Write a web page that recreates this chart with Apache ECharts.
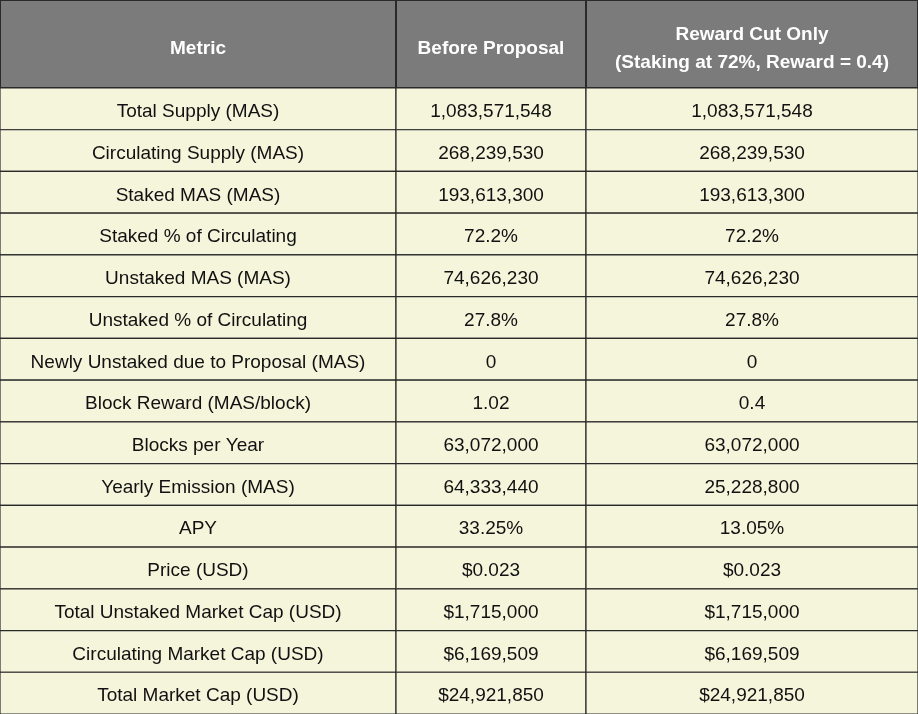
<!DOCTYPE html>
<html><head><meta charset="utf-8">
<script src="https://cdn.jsdelivr.net/npm/echarts@6/dist/echarts.min.js"></script>
<style>html,body{margin:0;padding:0;background:#f5f5dc}#c{width:918px;height:714px}</style>
</head><body><div id="c"></div>
<script>
const headers = ["Metric", "Before Proposal", "Reward Cut Only\n(Staking at 72%, Reward = 0.4)"];
const metrics = ["Total Supply (MAS)","Circulating Supply (MAS)","Staked MAS (MAS)","Staked % of Circulating","Unstaked MAS (MAS)","Unstaked % of Circulating","Newly Unstaked due to Proposal (MAS)","Block Reward (MAS/block)","Blocks per Year","Yearly Emission (MAS)","APY","Price (USD)","Total Unstaked Market Cap (USD)","Circulating Market Cap (USD)","Total Market Cap (USD)"];
const beforeProposal = ["1,083,571,548","268,239,530","193,613,300","72.2%","74,626,230","27.8%","0","1.02","63,072,000","64,333,440","33.25%","$0.023","$1,715,000","$6,169,509","$24,921,850"];
const rewardCutOnly = ["1,083,571,548","268,239,530","193,613,300","72.2%","74,626,230","27.8%","0","0.4","63,072,000","25,228,800","13.05%","$0.023","$1,715,000","$6,169,509","$24,921,850"];

const colEdges = [0, 396, 586, 918];
const headerH = 88, rowH = (714 - 88) / 15;
const cells = [];
headers.forEach((h, c) => cells.push([c, -1, h]));
const cols = [metrics, beforeProposal, rewardCutOnly];
cols.forEach((arr, c) => arr.forEach((v, r) => cells.push([c, r, v])));

const chart = echarts.init(document.getElementById('c'));
chart.setOption({
  animation: false,
  grid: {left: 0, right: 0, top: 0, bottom: 0},
  xAxis: {type: 'value', min: 0, max: 918, show: false},
  yAxis: {type: 'value', min: 0, max: 714, inverse: true, show: false},
  series: [{
    type: 'custom',
    data: cells,
    renderItem(params, api) {
      const c = api.value(0), r = api.value(1);
      const y0 = r < 0 ? 0 : headerH + r * rowH;
      const y1 = r < 0 ? headerH : headerH + (r + 1) * rowH;
      const p0 = api.coord([colEdges[c], y0]), p1 = api.coord([colEdges[c + 1], y1]);
      const isH = r < 0;
      return {type: 'group', children: [
        {type: 'rect', shape: {x: p0[0], y: p0[1], width: p1[0] - p0[0], height: p1[1] - p0[1]},
         style: {fill: isH ? '#7b7b7b' : '#f5f5dc', stroke: '#2a2a2a', lineWidth: isH ? 2 : 1.2}},
        {type: 'text', style: {text: cells[params.dataIndex][2], x: (p0[0] + p1[0]) / 2, y: (p0[1] + p1[1]) / 2 + (isH ? 5 : 3),
          align: 'center', verticalAlign: 'middle', fill: isH ? '#ffffff' : '#111111',
          font: (isH ? 'bold ' : '') + '19px "Liberation Sans", Arial, sans-serif', lineHeight: 28}}
      ]};
    }
  }]
});
</script></body></html>
